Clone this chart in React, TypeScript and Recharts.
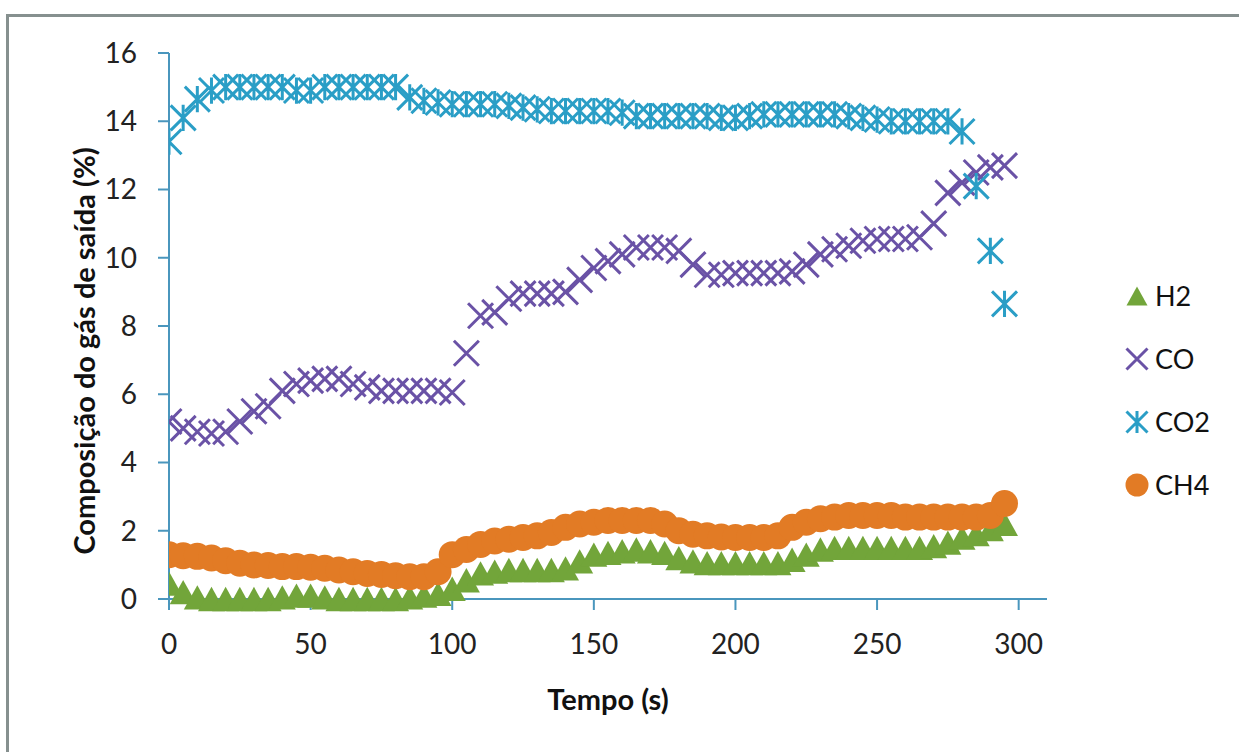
import { ScatterChart, Scatter, XAxis, YAxis, Legend } from "recharts";

// tempo (s)
const TEMPO = [
  0, 5, 10, 15, 20, 25, 30, 35, 40, 45, 50, 55, 60, 65, 70, 75, 80, 85, 90, 95,
  100, 105, 110, 115, 120, 125, 130, 135, 140, 145, 150, 155, 160, 165, 170, 175, 180, 185, 190, 195,
  200, 205, 210, 215, 220, 225, 230, 235, 240, 245, 250, 255, 260, 265, 270, 275, 280, 285, 290, 295,
];

const H2 = [
  0.45, 0.2, 0.05, 0.0, 0.0, 0.0, 0.0, 0.0, 0.05, 0.1, 0.1, 0.05, 0.0, 0.0, 0.0, 0.0, 0.0, 0.05, 0.1, 0.15,
  0.3, 0.55, 0.75, 0.8, 0.85, 0.85, 0.85, 0.85, 0.9, 1.1, 1.3, 1.35, 1.4, 1.45, 1.4, 1.35, 1.2, 1.1, 1.05, 1.05,
  1.05, 1.05, 1.05, 1.05, 1.15, 1.3, 1.45, 1.5, 1.5, 1.5, 1.5, 1.5, 1.5, 1.5, 1.55, 1.65, 1.8, 1.9, 2.05, 2.2,
];

const CO = [
  5.2, 5.0, 4.9, 4.85, 4.9, 5.2, 5.5, 5.65, 6.1, 6.3, 6.4, 6.45, 6.45, 6.3, 6.2, 6.1, 6.1, 6.1, 6.1, 6.1,
  6.05, 7.2, 8.3, 8.4, 8.8, 8.95, 8.95, 8.95, 9.0, 9.35, 9.7, 9.9, 10.1, 10.3, 10.3, 10.3, 10.2, 9.8, 9.5, 9.5,
  9.55, 9.55, 9.55, 9.55, 9.6, 9.8, 10.1, 10.25, 10.35, 10.5, 10.55, 10.55, 10.55, 10.6, 11.0, 11.9, 12.2, 12.5, 12.65, 12.7,
];

const CO2 = [
  13.4, 14.1, 14.65, 14.9, 15.0, 15.0, 15.0, 15.0, 15.0, 14.9, 14.9, 15.0, 15.0, 15.0, 15.0, 15.0, 15.0, 14.7, 14.6, 14.55,
  14.5, 14.5, 14.5, 14.5, 14.45, 14.4, 14.35, 14.3, 14.3, 14.3, 14.3, 14.3, 14.25, 14.15, 14.15, 14.15, 14.15, 14.15, 14.15, 14.1,
  14.1, 14.15, 14.2, 14.2, 14.2, 14.2, 14.2, 14.2, 14.15, 14.1, 14.05, 14.0, 14.0, 14.0, 14.0, 14.0, 13.7, 12.1, 10.2, 8.65,
];

const CH4 = [
  1.3, 1.27, 1.25, 1.2, 1.12, 1.05, 1.0, 0.98, 0.95, 0.95, 0.93, 0.9, 0.85, 0.8, 0.75, 0.72, 0.68, 0.65, 0.65, 0.8,
  1.3, 1.45, 1.6, 1.7, 1.75, 1.8, 1.85, 1.95, 2.1, 2.2, 2.25, 2.3, 2.3, 2.3, 2.3, 2.2, 2.0, 1.9, 1.85, 1.82,
  1.8, 1.8, 1.8, 1.85, 2.1, 2.25, 2.35, 2.4, 2.45, 2.45, 2.45, 2.45, 2.4, 2.4, 2.4, 2.4, 2.4, 2.4, 2.45, 2.8,
];

const X_TICKS = [0, 50, 100, 150, 200, 250, 300];
const Y_TICKS = [0, 2, 4, 6, 8, 10, 12, 14, 16];

type Kind = "triangle" | "x" | "star" | "circle";

const SERIES: { name: string; values: number[]; color: string; kind: Kind }[] = [
  { name: "H2", values: H2, color: "#72a53a", kind: "triangle" },
  { name: "CO", values: CO, color: "#6a52a6", kind: "x" },
  { name: "CO2", values: CO2, color: "#2a9ec6", kind: "star" },
  { name: "CH4", values: CH4, color: "#e27b25", kind: "circle" },
];

const AXIS = "#4a96bd";
const FONT = "Lato, 'Open Sans', sans-serif";

function markerPath(kind: Kind, cx: number, cy: number, size: number, color: string) {
  const r = size / 2;
  if (kind === "triangle") {
    const h = size * 0.9;
    return (
      <polygon
        points={`${cx},${cy - h / 2} ${cx - r},${cy + h / 2} ${cx + r},${cy + h / 2}`}
        fill={color}
      />
    );
  }
  if (kind === "circle") return <circle cx={cx} cy={cy} r={r} fill={color} />;
  const d =
    `M${cx - r},${cy - r}L${cx + r},${cy + r}M${cx - r},${cy + r}L${cx + r},${cy - r}` +
    (kind === "star" ? `M${cx},${cy - r * 1.05}L${cx},${cy + r * 1.05}` : "");
  return <path d={d} stroke={color} strokeWidth={3} fill="none" />;
}

const SIZES: Record<Kind, number> = { triangle: 27, x: 25, star: 25, circle: 27 };

function LegendBox() {
  return (
    <div style={{ fontFamily: FONT, fontSize: 27, color: "#111" }}>
      {SERIES.map((s) => (
        <div key={s.name} style={{ display: "flex", alignItems: "center", height: 63 }}>
          <svg width={28} height={28} style={{ marginRight: 4 }}>
            {markerPath(s.kind, 14, 14, s.kind === "circle" ? 23 : 21, s.color)}
          </svg>
          <span>{s.name}</span>
        </div>
      ))}
    </div>
  );
}

export default function App() {
  return (
    <div style={{ position: "absolute", left: 0, top: 0, width: 1239, height: 752, background: "#fff", overflow: "hidden" }}>
      <div
        style={{
          position: "absolute",
          left: 6,
          top: 14,
          width: 1300,
          height: 800,
          borderLeft: "3px solid #86908f",
          borderTop: "3px solid #86908f",
        }}
      />
      <ScatterChart
        width={1239}
        height={752}
        margin={{ top: 53, right: 192, bottom: 93, left: 99 }}
        style={{ position: "absolute", left: 0, top: 0 }}
      >
        <XAxis
          type="number"
          dataKey="x"
          domain={[0, 310]}
          ticks={X_TICKS}
          height={60}
          allowDataOverflow
          stroke={AXIS}
          axisLine={{ stroke: AXIS, strokeWidth: 2 }}
          tickLine={{ stroke: AXIS, strokeWidth: 2 }}
          tickSize={11}
          tickMargin={24}
          tick={{ fill: "#222", fontSize: 28, fontFamily: FONT }}
          label={({ viewBox }: any) => (
            <text
              x={viewBox.x + viewBox.width / 2}
              y={viewBox.y + 111}
              textAnchor="middle"
              fontFamily={FONT}
              fontWeight="bold"
              fontSize={29}
              fill="#111"
            >
              Tempo (s)
            </text>
          )}
        />
        <YAxis
          type="number"
          dataKey="y"
          domain={[0, 16]}
          ticks={Y_TICKS}
          width={70}
          stroke={AXIS}
          axisLine={{ stroke: AXIS, strokeWidth: 2 }}
          tickLine={{ stroke: AXIS, strokeWidth: 2 }}
          tickSize={11}
          tickMargin={21}
          tick={{ fill: "#222", fontSize: 28, fontFamily: FONT }}
          label={({ viewBox }: any) => {
            const x = viewBox.x - 16;
            const y = viewBox.y + viewBox.height / 2 + 25;
            return (
              <text
                x={x}
                y={y}
                transform={`rotate(-90 ${x} ${y})`}
                textAnchor="middle"
                dominantBaseline="central"
                fontFamily={FONT}
                fontWeight="bold"
                fontSize={29}
                fill="#111"
              >
                Composição do gás de saída (%)
              </text>
            );
          }}
        />
        <Legend
          content={() => <LegendBox />}
          layout="horizontal"
          verticalAlign="middle"
          align="center"
          wrapperStyle={{ position: "absolute", left: 1123, top: 264, width: 116 }}
        />
        {SERIES.map((s) => (
          <Scatter
            key={s.name}
            name={s.name}
            data={TEMPO.map((t, i) => ({ x: t, y: s.values[i] }))}
            isAnimationActive={false}
            shape={(p: any) => markerPath(s.kind, p.cx, p.cy, SIZES[s.kind], s.color)}
          />
        ))}
      </ScatterChart>
    </div>
  );
}
